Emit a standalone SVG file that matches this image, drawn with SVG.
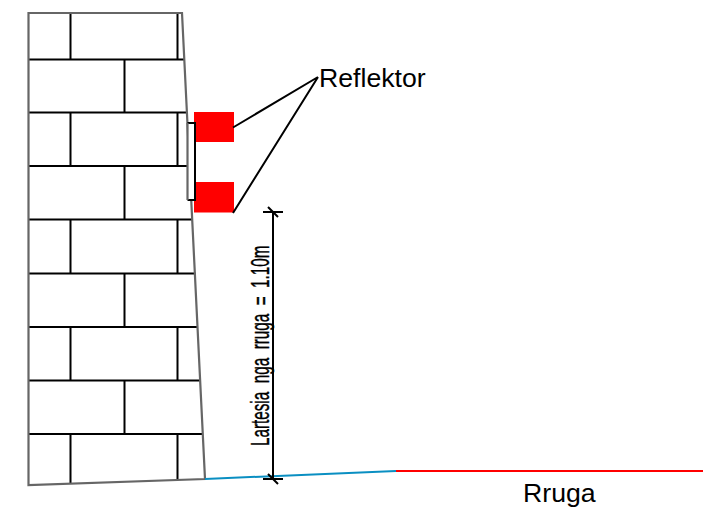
<svg xmlns="http://www.w3.org/2000/svg" width="703" height="507" viewBox="0 0 703 507">
<style>
.b{stroke:#000;stroke-width:2;fill:none}
.w{stroke:#666;stroke-width:2.200;fill:none}
.t{font-family:"Liberation Sans",Arial,sans-serif;font-size:26.670px;fill:#000}
.d{font-family:"Liberation Sans",Arial,sans-serif;font-size:25px;word-spacing:7px;fill:#000;stroke:#000;stroke-width:.4px}
</style>
<rect width="703" height="507" fill="#fff"/>
<g id="wall">
<path class="b" d="M29 59.500H184.500M29 112.500H187M29 166H190M29 219.500H192.500M29 273.500H195.500M29 327H198M29 380.500H200.500M29 434H203"/>
<path class="b" d="M70.500 13V59.500M177.500 13V59.500M124.500 59.500V112.500M70.500 112.500V166M177.500 112.500V166M124.500 166V219.500M70.500 219.500V273.500M177.500 219.500V273.500M124.500 273.500V327M70.500 327V380.500M177.500 327V380.500M124.500 380.500V434M70.500 434V483M177.500 434V480"/>
<path class="w" d="M28.500 13H182L205 479L28.500 485Z"/>
</g>
<g id="reflektor-1"><rect x="194" y="112" width="40" height="30" fill="#f00"/></g>
<g id="reflektor-2"><rect x="194" y="182" width="40" height="30.500" fill="#f00"/></g>
<g id="bracket">
<rect x="187.500" y="123" width="7.500" height="77" fill="#fff" stroke="none"/>
<path class="b" d="M187.500 123H195V200H187.500"/>
<path class="w" d="M187.500 123V200"/>
</g>
<g id="road">
<path d="M205 479L396 471" stroke="#0a8fc2" stroke-width="2" fill="none"/>
<path d="M396 471H703" stroke="#f00" stroke-width="2" fill="none"/>
</g>
<g id="connectors">
<path class="b" d="M233 127.500L318 77M233 213L318 77"/>
<path class="b" d="M273 212V479M263 212H283M268 207L278 217M263 479H283M268 474L278 484"/>
</g>
<g id="labels">
<text class="t" x="319" y="87">Reflektor</text>
<text class="t" x="523" y="501.500">Rruga</text>
<text class="d" transform="translate(269 446) rotate(-90) scale(.61 1)">Lartesia nga rruga = 1.10m</text>
</g>
</svg>
